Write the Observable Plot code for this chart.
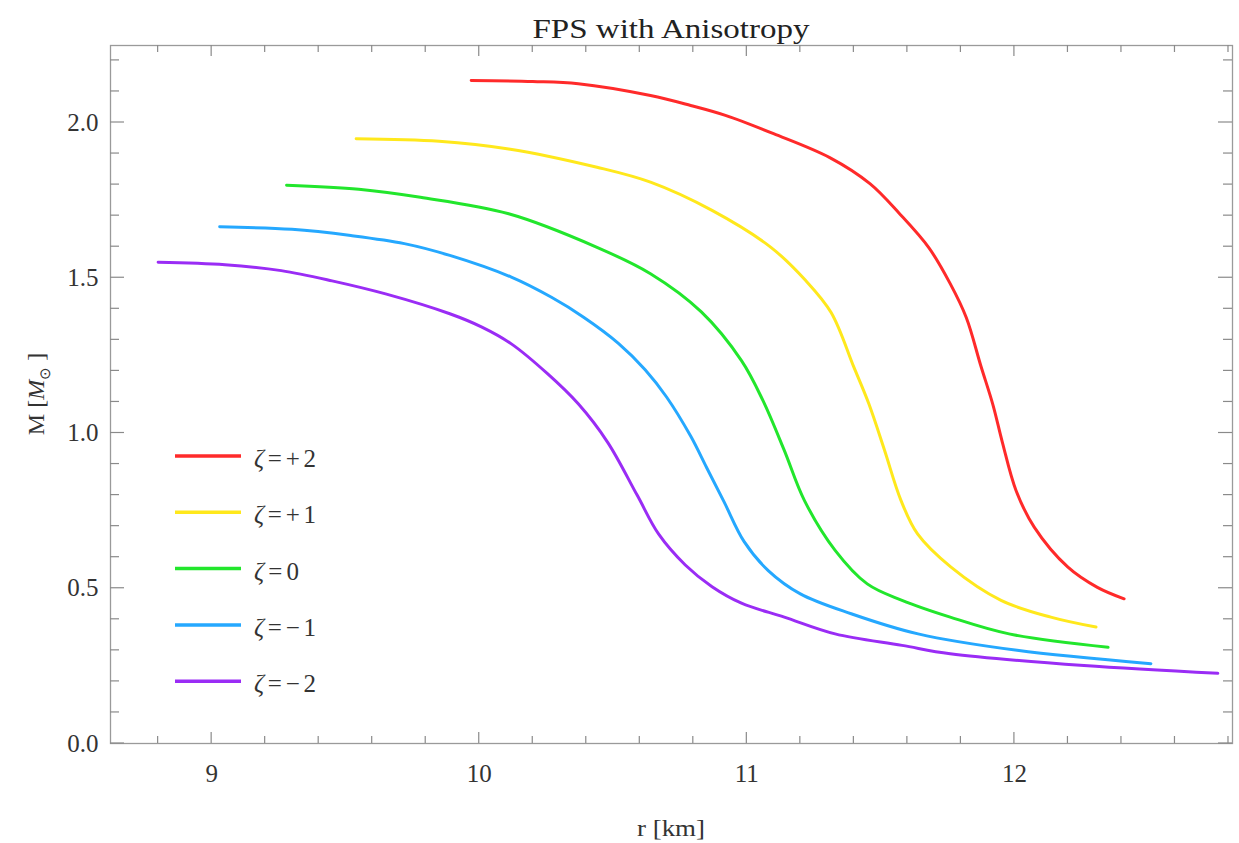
<!DOCTYPE html>
<html><head><meta charset="utf-8">
<script src="https://cdn.jsdelivr.net/npm/d3@7"></script>
<script src="https://cdn.jsdelivr.net/npm/@observablehq/plot@0.6"></script>
<style>body{margin:0;background:#fff;} #chart{position:relative;width:1239px;height:843px;}</style>
</head><body><div id="chart"></div>
<script>
// ---- Data ----
const zetaLabels = ["+2", "+1", "0", "\u22121", "\u22122"];
const zetaColors = ["#ff2a2a", "#ffe81c", "#22e62c", "#25a8ff", "#9a2cf5"];

const rZp2 = [9.97, 10.2, 10.37, 10.64, 10.79, 10.92, 11.10, 11.31, 11.46, 11.57, 11.68, 11.76, 11.82, 11.875, 11.92, 11.955, 12.006, 12.074, 12.20, 12.31, 12.41];
const mZp2 = [2.135, 2.132, 2.125, 2.087, 2.055, 2.023, 1.964, 1.887, 1.803, 1.707, 1.597, 1.481, 1.372, 1.215, 1.09, 0.97, 0.815, 0.697, 0.568, 0.503, 0.466];

const rZp1 = [9.54, 9.85, 10.11, 10.44, 10.64, 10.87, 11.09, 11.22, 11.315, 11.40, 11.456, 11.514, 11.576, 11.638, 11.763, 11.95, 12.136, 12.305];
const mZp1 = [1.948, 1.94, 1.915, 1.856, 1.808, 1.717, 1.598, 1.491, 1.388, 1.212, 1.094, 0.946, 0.783, 0.675, 0.568, 0.461, 0.407, 0.375];

const rZ0 = [9.28, 9.55, 9.78, 10.11, 10.44, 10.64, 10.83, 10.98, 11.06, 11.14, 11.215, 11.33, 11.45, 11.58, 11.76, 11.98, 12.35];
const mZ0 = [1.798, 1.785, 1.759, 1.706, 1.598, 1.513, 1.39, 1.233, 1.105, 0.944, 0.783, 0.622, 0.514, 0.461, 0.407, 0.353, 0.310];

const rZm1 = [9.03, 9.30, 9.52, 9.72, 9.89, 10.12, 10.27, 10.39, 10.52, 10.62, 10.70, 10.79, 10.85, 10.915, 10.99, 11.08, 11.20, 11.39, 11.64, 12.01, 12.51];
const mZm1 = [1.664, 1.656, 1.636, 1.61, 1.572, 1.502, 1.437, 1.373, 1.289, 1.204, 1.116, 0.990, 0.888, 0.778, 0.650, 0.557, 0.482, 0.418, 0.353, 0.300, 0.257];

const rZm2 = [8.80, 9.05, 9.26, 9.45, 9.65, 9.89, 10.01, 10.12, 10.255, 10.37, 10.48, 10.59, 10.67, 10.77, 10.87, 10.98, 11.14, 11.33, 11.58, 11.76, 12.26, 12.76];
const mZm2 = [1.55, 1.542, 1.523, 1.49, 1.448, 1.384, 1.341, 1.287, 1.191, 1.094, 0.970, 0.800, 0.675, 0.575, 0.505, 0.452, 0.407, 0.353, 0.316, 0.289, 0.251, 0.226];

const xTicks = [9, 10, 11, 12];
const yTicks = [0, 0.5, 1.0, 1.5, 2.0];
const titleText = "FPS with Anisotropy";
const xLabelText = "r [km]";

const seriesR = [rZp2, rZp1, rZ0, rZm1, rZm2];
const seriesM = [mZp2, mZp1, mZ0, mZm1, mZm2];
const series = seriesR.map((rs, i) => rs.map((r, j) => ({r, m: seriesM[i][j], zeta: zetaLabels[i]})));

const serif = "'Liberation Serif', 'Times New Roman', Times, serif";

const plot = Plot.plot({
  width: 1239, height: 843,
  marginLeft: 110, marginRight: 7, marginTop: 45, marginBottom: 100,
  style: {fontFamily: serif, fontSize: "24px", color: "#333", background: "white", overflow: "visible"},
  x: {domain: [8.622, 12.815]},
  y: {domain: [0, 2.248]},
  marks: [
    Plot.frame({stroke: "#9a9a9a", strokeWidth: 1.3}),
    Plot.axisX({ticks: xTicks, tickSize: 0, tickPadding: 21, label: null, fontSize: 25, tickFormat: d => String(d)}),
    Plot.axisY({ticks: yTicks, tickSize: 0, tickPadding: 12, label: null, fontSize: 25, tickFormat: d3.format(".1f")}),
    ...series.map((s, i) => Plot.line(s, {x: "r", y: "m", stroke: zetaColors[i], strokeWidth: 3, curve: "catmull-rom"}))
  ]
});
document.getElementById("chart").appendChild(plot);

const svg = d3.select(plot);
// enforce tick label font
svg.selectAll('g[aria-label$="tick label"]').attr("font-size", 25).attr("font-family", serif);
svg.selectAll('g[aria-label$="tick label"] text').style("font-size", "25px").style("font-family", serif);

// frame ticks (Mathematica style, inward on all four sides)
const xs = plot.scale("x"), ys = plot.scale("y");
const fLeft = 110, fRight = 1232, fTop = 45, fBottom = 743;
const g = svg.append("g").attr("stroke", "#8a8a8a").attr("stroke-width", 1.2);
const xMinor = d3.range(88, 129, 2).map(v => v / 10);
xMinor.forEach(v => {
  const major = Math.abs(v - Math.round(v)) < 1e-6;
  const len = major ? 11 : 7;
  const px = xs.apply(v);
  g.append("line").attr("x1", px).attr("x2", px).attr("y1", fBottom).attr("y2", fBottom - len);
  g.append("line").attr("x1", px).attr("x2", px).attr("y1", fTop).attr("y2", fTop + len);
});
const yMinor = d3.range(0, 23, 1).map(v => v / 10);
yMinor.forEach(v => {
  const major = Math.abs(v * 2 - Math.round(v * 2)) < 1e-6;
  const len = major ? 14 : 9;
  const py = ys.apply(v);
  g.append("line").attr("x1", fLeft).attr("x2", fLeft + len).attr("y1", py).attr("y2", py);
  g.append("line").attr("x1", fRight).attr("x2", fRight - len).attr("y1", py).attr("y2", py);
});

// title
svg.append("text").attr("x", (fLeft + fRight) / 2).attr("y", 38).attr("text-anchor", "middle")
  .attr("font-family", serif).attr("font-size", 28).attr("fill", "#222")
  .attr("textLength", 277).attr("lengthAdjust", "spacingAndGlyphs").text(titleText);

// x label
svg.append("text").attr("x", (fLeft + fRight) / 2).attr("y", 836).attr("text-anchor", "middle")
  .attr("font-family", serif).attr("font-size", 24).attr("fill", "#333")
  .attr("textLength", 68).attr("lengthAdjust", "spacingAndGlyphs").text(xLabelText);

// y label
const yl = svg.append("text").attr("transform", `translate(44,${(fTop + fBottom) / 2}) rotate(-90)`)
  .attr("text-anchor", "middle").attr("font-family", serif).attr("font-size", 24).attr("fill", "#333");
yl.append("tspan").text("M [");
yl.append("tspan").attr("font-style", "italic").text("M");
yl.append("tspan").attr("font-size", 15).attr("dy", 6).text("\u2299");
yl.append("tspan").attr("dy", -6).text(" ]");

// legend
const lg = svg.append("g");
zetaLabels.forEach((lab, i) => {
  const y = 456 + i * 56.3;
  lg.append("line").attr("x1", 175).attr("x2", 241).attr("y1", y).attr("y2", y)
    .attr("stroke", zetaColors[i]).attr("stroke-width", 3.5);
  const t = lg.append("text").attr("x", 254).attr("y", y + 11).attr("text-anchor", "start")
    .attr("font-family", serif).attr("font-size", 25).attr("fill", "#333")
    .attr("textLength", lab.length > 1 ? 62 : 45).attr("lengthAdjust", "spacing");
  t.append("tspan").attr("font-style", "italic").text("\u03b6");
  t.append("tspan").text("=" + lab);
});
</script>
</body></html>
